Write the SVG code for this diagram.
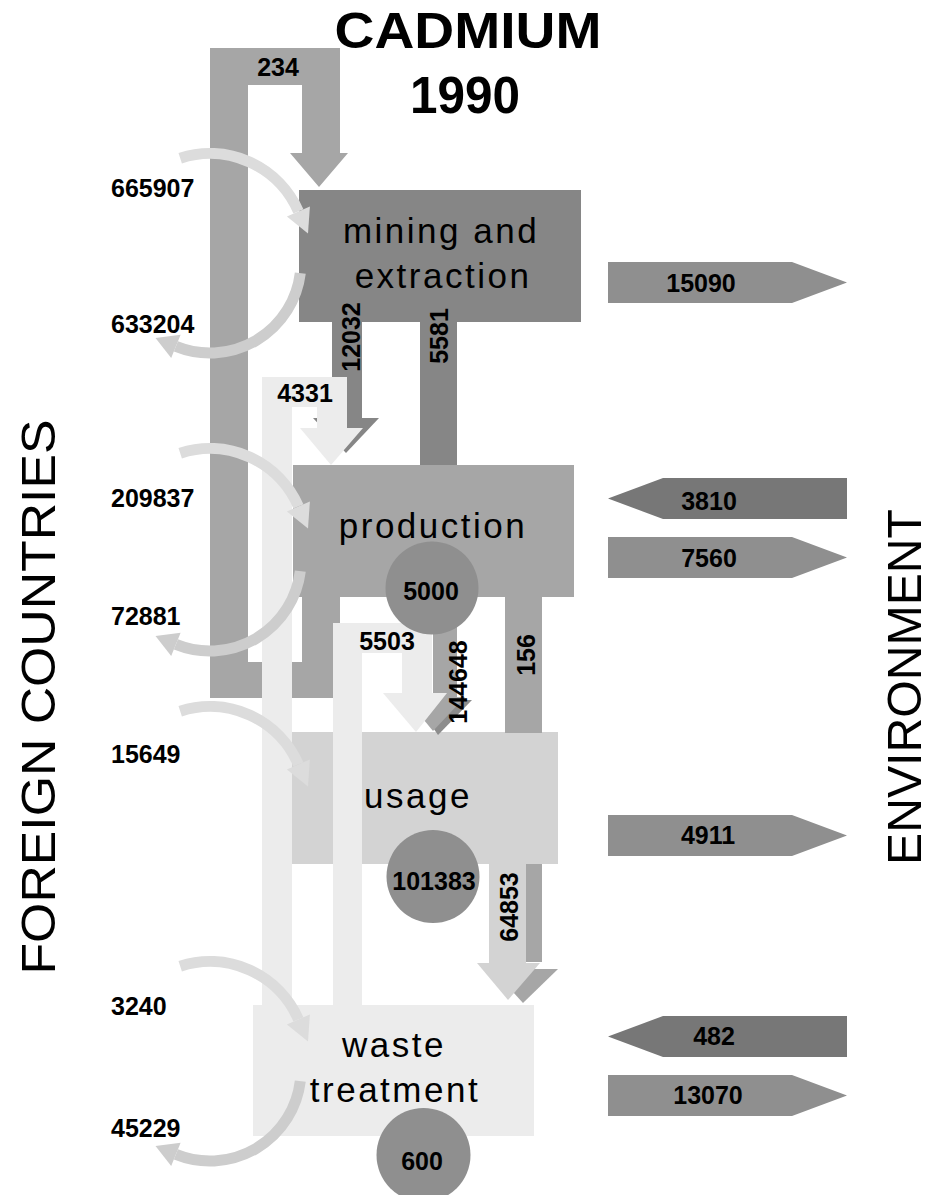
<svg xmlns="http://www.w3.org/2000/svg" width="929" height="1195" viewBox="0 0 929 1195">
<style>
.num{font-family:"Liberation Sans",Arial,sans-serif;font-weight:bold;font-size:25px;fill:#000}
.mid{text-anchor:middle}
.lbl{font-family:"Liberation Sans",Arial,sans-serif;font-size:35px;letter-spacing:2.5px;fill:#000;text-anchor:middle}
.big{font-family:"Liberation Sans",Arial,sans-serif;font-size:48px;fill:#000;text-anchor:middle}
.title{font-family:"Liberation Sans",Arial,sans-serif;font-weight:bold;fill:#000;text-anchor:middle}
.out{fill:#8f8f8f}
.in{fill:#777777}
.stock{fill:#8f8f8f}
.arcIn{fill:none;stroke:#dcdcdc;stroke-width:11}
.arcOut{fill:none;stroke:#cdcdcd;stroke-width:11}
</style>
<defs>
<g id="arcInShape">
<path class="arcIn" d="M180.2,158.2 A96.5,96.5 0 0 1 298.4,211.4"/>
<polygon fill="#dcdcdc" points="309.9,206.4 286.9,216.4 308,233.4"/>
</g>
<g id="arcOutShape">
<path class="arcOut" d="M300.3,273.1 A91,91 0 0 1 175.9,346.4"/>
<polygon fill="#cdcdcd" points="171.2,358 180.6,334.8 155.5,338.1"/>
</g>
</defs>

<g id="title">
<text class="title" x="468" y="48" font-size="50" textLength="267" lengthAdjust="spacingAndGlyphs">CADMIUM</text>
<text class="title" x="465" y="113" font-size="52" textLength="110" lengthAdjust="spacingAndGlyphs">1990</text>
</g>

<g id="mining">
<rect x="299" y="190" width="282" height="132" fill="#868686"/>
<text class="lbl" x="441" y="243">mining and</text>
<text class="lbl" x="443" y="288">extraction</text>
</g>
<g id="production">
<rect x="293" y="465" width="281" height="132" fill="#a6a6a6"/>
<text class="lbl" x="433" y="538">production</text>
</g>
<g id="usage">
<rect x="291" y="732" width="267" height="132" fill="#d3d3d3"/>
<text class="lbl" x="418" y="808">usage</text>
</g>
<g id="waste">
<rect x="253" y="1005" width="281" height="131" fill="#ececec"/>
<text class="lbl" x="394" y="1057">waste</text>
<text class="lbl" x="395" y="1102">treatment</text>
</g>

<g id="connectors">
<!-- production -> mining loop (234) -->
<path fill="#a6a6a6" d="M302,597 H340 V698 H210 V48 H340 V153 H348 L319,187 L290,153 H302 V85 H248 V662 H302 Z"/>
<text class="num mid" x="278" y="76" font-size="21">234</text>
<!-- mining -> production 12032 -->
<rect x="332" y="322" width="30" height="96" fill="#868686"/>
<polygon fill="#868686" points="313,418 379,418 346,453"/>
<!-- mining -> production 5581 -->
<rect x="420" y="322" width="37" height="143" fill="#868686"/>
<!-- production -> usage 156 -->
<rect x="505" y="597" width="37" height="136" fill="#a6a6a6"/>
<!-- production -> usage 144648 -->
<rect x="433" y="597" width="24" height="100" fill="#a6a6a6"/>
<polygon fill="#8c8c8c" points="414,700 472,700 438,735"/>
<polygon fill="#a6a6a6" points="405,697 465,697 433,731"/>
<!-- usage -> waste 64853 -->
<rect x="504" y="864" width="38" height="98" fill="#a6a6a6"/>
<polygon fill="#a6a6a6" points="492,969 558,969 523,1003"/>
<rect x="489" y="864" width="37" height="99" fill="#d3d3d3"/>
<polygon fill="#d3d3d3" points="477,963 540,963 508,1000"/>
<!-- waste -> production 4331 -->
<path fill="#ececec" d="M262,1005 V377 H347 V428 H363 L331,465 L300,428 H317 V407 H292 V1005 Z"/>
<!-- waste -> usage 5503 -->
<path fill="#ececec" d="M333,1005 V623 H432 V693 H447 L416,732 L383,693 H402 V653 H362 V1005 Z"/>

<text class="num mid" transform="translate(360,337) rotate(-90)">12032</text>
<text class="num mid" transform="translate(448,336) rotate(-90)">5581</text>
<text class="num mid" x="305" y="402">4331</text>
<text class="num mid" x="387" y="650">5503</text>
<text class="num mid" transform="translate(467,682) rotate(-90)">144648</text>
<text class="num mid" transform="translate(535,655) rotate(-90)">156</text>
<text class="num mid" transform="translate(518,907) rotate(-90)">64853</text>

<!-- imports / exports (foreign countries) -->
<use href="#arcInShape"/>
<use href="#arcOutShape"/>
<use href="#arcInShape" transform="translate(0,295)"/>
<use href="#arcOutShape" transform="translate(0,298)"/>
<use href="#arcInShape" transform="translate(0,553)"/>
<use href="#arcInShape" transform="translate(0,808)"/>
<use href="#arcOutShape" transform="translate(0,808)"/>

<text class="num" x="111" y="197">665907</text>
<text class="num" x="111" y="333">633204</text>
<text class="num" x="111" y="507">209837</text>
<text class="num" x="111" y="625">72881</text>
<text class="num" x="111" y="763">15649</text>
<text class="num" x="111" y="1015">3240</text>
<text class="num" x="111" y="1137">45229</text>

<!-- environment flows -->
<polygon class="out" points="608,262 792,262 847,282.5 792,303 608,303"/>
<text class="num mid" x="701" y="292">15090</text>
<polygon class="in" points="847,478 663,478 608,498.5 663,519 847,519"/>
<text class="num mid" x="709" y="510">3810</text>
<polygon class="out" points="608,537 792,537 847,557.5 792,578 608,578"/>
<text class="num mid" x="709" y="567">7560</text>
<polygon class="out" points="608,815 792,815 847,835.5 792,856 608,856"/>
<text class="num mid" x="708" y="844">4911</text>
<polygon class="in" points="847,1016 663,1016 608,1036.5 663,1057 847,1057"/>
<text class="num mid" x="714" y="1045">482</text>
<polygon class="out" points="608,1075 792,1075 847,1095.5 792,1116 608,1116"/>
<text class="num mid" x="708" y="1104">13070</text>
</g>

<g id="stock-production">
<circle class="stock" cx="432" cy="588" r="46.5"/>
<text class="num mid" x="431" y="600">5000</text>
</g>
<g id="stock-usage">
<circle class="stock" cx="433" cy="876.5" r="46.5"/>
<text class="num mid" x="434" y="890">101383</text>
</g>
<g id="stock-waste">
<circle class="stock" cx="423.5" cy="1155" r="47"/>
<text class="num mid" x="422" y="1170">600</text>
</g>

<g id="foreign-countries">
<text class="big" transform="translate(55,697) rotate(-90)" textLength="555" lengthAdjust="spacingAndGlyphs">FOREIGN COUNTRIES</text>
</g>
<g id="environment">
<text class="big" transform="translate(921,687) rotate(-90)" font-size="49" textLength="356" lengthAdjust="spacingAndGlyphs">ENVIRONMENT</text>
</g>
</svg>
